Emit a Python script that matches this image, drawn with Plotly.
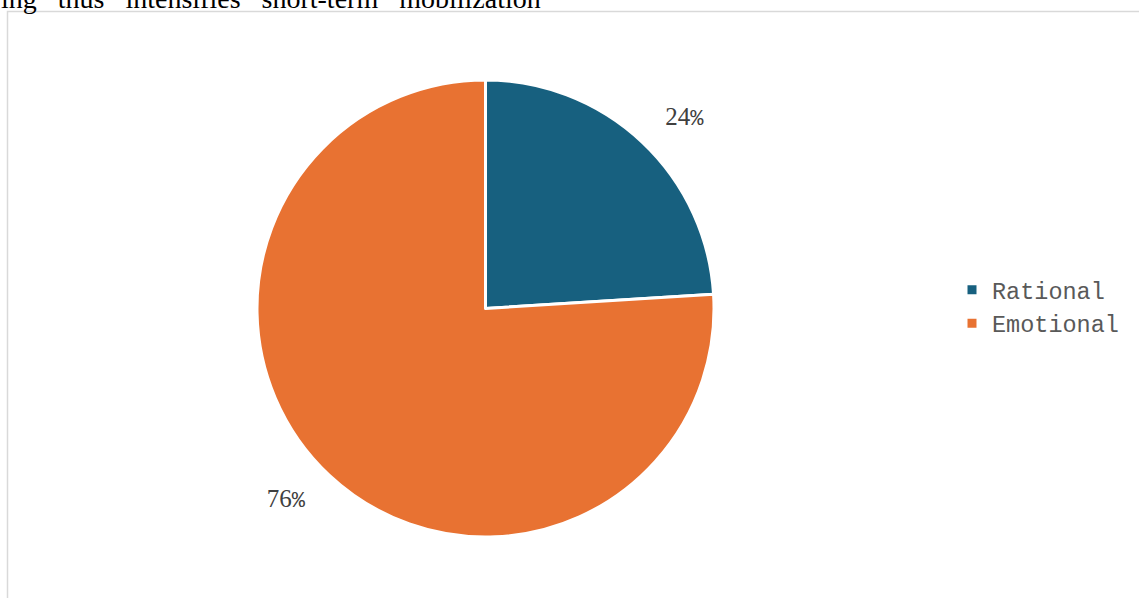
import plotly.graph_objects as go

labels = ["Rational", "Emotional"]
values = [24, 76]
colors = ["#17607F", "#E87232"]
top_text = "ing\u00a0\u00a0 thus\u00a0\u00a0 intensifies\u00a0\u00a0 short-term\u00a0\u00a0 mobilization"

W, H = 1139, 598
cx, cy, R = 485.5, 308.5, 228.5
R3 = 252  # radius of the invisible pie whose outside labels carry the percentages


def dom(r):
    return dict(x=[(cx - r) / W, (cx + r) / W], y=[(H - cy - r) / H, (H - cy + r) / H])


fig = go.Figure()
fig.add_trace(go.Pie(
    labels=labels, values=values, sort=False, direction="clockwise", rotation=0,
    marker=dict(colors=colors, line=dict(color="white", width=3)),
    textinfo="none", hoverinfo="label+percent",
    domain=dom(R), showlegend=True,
))
fig.add_trace(go.Pie(
    labels=labels, values=values, sort=False, direction="clockwise", rotation=0,
    marker=dict(colors=["rgba(0,0,0,0)"] * 2, line=dict(width=0)),
    textposition="outside",
    texttemplate="%{value}<span style='font-family:Liberation Mono;font-size:22px'>%</span>",
    textfont=dict(family="Liberation Serif", size=25, color="#404040"),
    hoverinfo="skip", showlegend=False, domain=dom(R3),
))

fig.add_annotation(
    text=top_text, xref="paper", yref="paper", x=-0.001, y=1 - 15.5 / H,
    xanchor="left", yanchor="bottom", showarrow=False,
    font=dict(family="Liberation Serif", size=28, color="black"),
)
fig.add_shape(type="rect", xref="paper", yref="paper",
              x0=7.5 / W, x1=1.01, y0=-0.05, y1=1 - 11.5 / H,
              line=dict(color="#D9D9D9", width=1.5), fillcolor="rgba(0,0,0,0)", layer="below")

fig.update_layout(
    width=W, height=H, margin=dict(l=0, r=0, t=0, b=0),
    paper_bgcolor="white", plot_bgcolor="white",
    legend=dict(x=952 / W, xanchor="left", y=1 - 307 / H, yanchor="middle",
                font=dict(family="Liberation Mono", size=23.5, color="#595959"),
                bgcolor="rgba(0,0,0,0)"),
)
fig.write_html("out.html", config={"displayModeBar": False},
               post_script="document.body.style.margin='0px';document.body.style.overflow='hidden';")
